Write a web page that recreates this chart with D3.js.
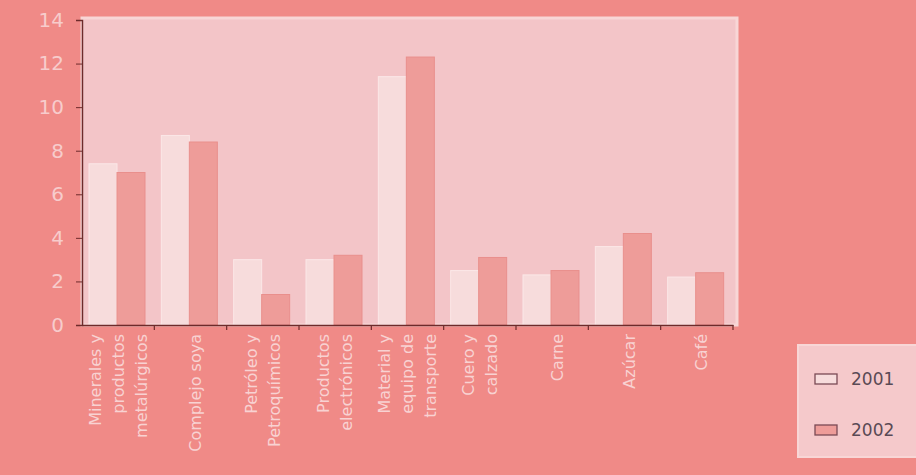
<!DOCTYPE html>
<html>
<head>
<meta charset="utf-8">
<script src="https://cdn.jsdelivr.net/npm/d3@7"></script>
<style>
html,body{margin:0;padding:0;background:#f08a87;}
svg{display:block;}
</style>
</head>
<body>
<svg id="chart" width="916" height="475"></svg>
<script>
const categories = [
  "Minerales y productos metalúrgicos",
  "Complejo soya",
  "Petróleo y Petroquímicos",
  "Productos electrónicos",
  "Material y equipo de transporte",
  "Cuero y calzado",
  "Carne",
  "Azúcar",
  "Café"
];
const categoryLines = [
  ["Minerales y", "productos", "metalúrgicos"],
  ["Complejo soya"],
  ["Petróleo y", "Petroquímicos"],
  ["Productos", "electrónicos"],
  ["Material y", "equipo de", "transporte"],
  ["Cuero y", "calzado"],
  ["Carne"],
  ["Azúcar"],
  ["Café"]
];
const series = ["2001", "2002"];
const values2001 = [7.4, 8.7, 3.0, 3.0, 11.4, 2.5, 2.3, 3.6, 2.2];
const values2002 = [7.0, 8.4, 1.4, 3.2, 12.3, 3.1, 2.5, 4.2, 2.4];
const yTicks = [0, 2, 4, 6, 8, 10, 12, 14];

(function () {
const svg = d3.select("#chart");
const W = 916, H = 475;
const pLeft = 82, pRight = 733, pTop = 20, pBottom = 325;

svg.append("rect").attr("width", W).attr("height", H).attr("fill", "#f08a87");

const x = d3.scaleBand().domain(categories).range([pLeft, pRight]).paddingInner(0).paddingOuter(0);
const y = d3.scaleLinear().domain([0, 14]).range([pBottom, pTop]);

// plot area
svg.append("rect")
  .attr("x", pLeft).attr("y", pTop - 2)
  .attr("width", pRight - pLeft + 4).attr("height", pBottom - pTop + 2)
  .attr("fill", "#f3c5c8")
  .attr("stroke", "#f8d6d6").attr("stroke-width", 3);

const colors = {"2001": "#f7dcdc", "2002": "#ee9c99"};
const data = categories.map((c, i) => ({c, v: [values2001[i], values2002[i]]}));
const bw = 28;

const g = svg.append("g");
data.forEach(d => {
  d.v.forEach((v, j) => {
    g.append("rect")
      .attr("x", x(d.c) + 7 + j * bw)
      .attr("y", y(v))
      .attr("width", bw)
      .attr("height", y(0) - y(v))
      .attr("fill", colors[series[j]])
      .attr("stroke", j === 0 ? "#fbe7e7" : "#e98f8c")
      .attr("stroke-width", 1);
  });
});

// y axis
const yAxis = d3.axisLeft(y).tickValues(yTicks).tickSize(6).tickPadding(12);
const ya = svg.append("g").attr("transform", `translate(${pLeft},0)`).call(yAxis);
ya.select(".domain").attr("stroke", "#6e2b2b").attr("stroke-width", 1.5);
ya.selectAll(".tick line").attr("stroke", "#6e2b2b");
ya.selectAll(".tick text")
  .attr("fill", "#f7cccc")
  .style("font-family", "'DejaVu Sans', sans-serif")
  .style("font-size", "20px");

// x axis
const xAxis = d3.axisBottom(x).tickValues([]).tickSizeOuter(0);
const xa = svg.append("g").attr("transform", `translate(0,${pBottom})`).call(xAxis);
xa.select(".domain").attr("stroke", "#6e2b2b").attr("stroke-width", 1.5);
xa.selectAll(".btick").data(categories).enter().append("line")
  .attr("class", "btick")
  .attr("x1", d => x(d) + x.bandwidth()).attr("x2", d => x(d) + x.bandwidth())
  .attr("y1", 0).attr("y2", 5)
  .attr("stroke", "#6e2b2b").attr("stroke-width", 1.2);

// category labels
const lineGap = 23;
categories.forEach((c, i) => {
  const lines = categoryLines[i];
  const cx = x(c) + x.bandwidth() / 2 + (lines.length === 1 ? 5 : 0);
  lines.forEach((t, k) => {
    const lx = cx + (k - (lines.length - 1) / 2) * lineGap;
    svg.append("text")
      .attr("transform", `translate(${lx},${pBottom + 9}) rotate(-90)`)
      .attr("text-anchor", "end")
      .attr("dominant-baseline", "central")
      .attr("fill", "#f8d2d2")
      .style("font-family", "'DejaVu Sans', sans-serif")
      .style("font-size", "16px")
      .text(t);
  });
});

// legend
const lg = svg.append("g");
lg.append("rect").attr("x", 798).attr("y", 345).attr("width", 125).attr("height", 112)
  .attr("fill", "#f5c9cb").attr("stroke", "#f8d6d6").attr("stroke-width", 2);
series.forEach((s, j) => {
  const yy = 374 + j * 51;
  lg.append("rect").attr("x", 815).attr("y", yy).attr("width", 22).attr("height", 10)
    .attr("fill", colors[s]).attr("stroke", "#7a4a55").attr("stroke-width", 1.3);
  lg.append("text").attr("x", 851).attr("y", yy + 11)
    .attr("fill", "#5a4a55")
    .style("font-family", "'DejaVu Sans', sans-serif")
    .style("font-size", "17px")
    .text(s);
});
})();
</script>
</body>
</html>
